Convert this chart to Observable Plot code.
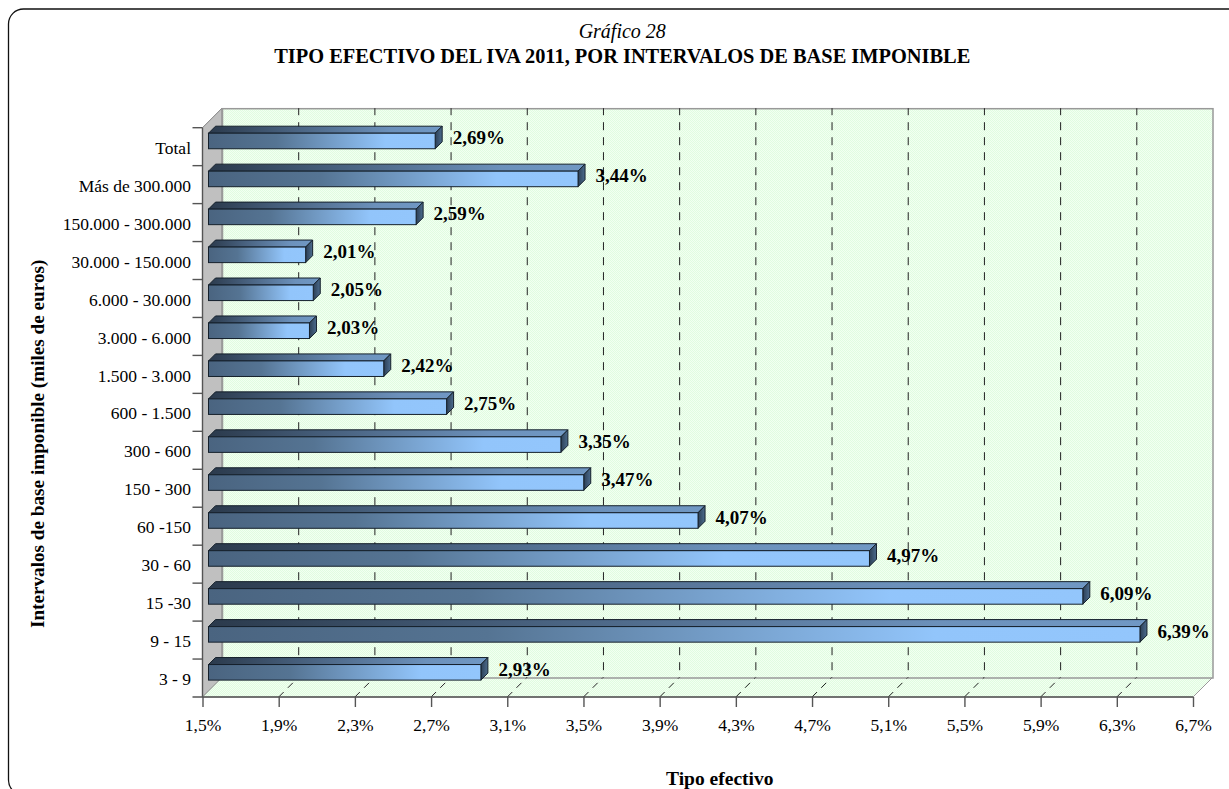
<!DOCTYPE html>
<html lang="es">
<head>
<meta charset="utf-8">
<title>Gráfico 28</title>
<script src="https://cdn.jsdelivr.net/npm/d3@7"></script>
<script src="https://cdn.jsdelivr.net/npm/@observablehq/plot@0.6"></script>
<style>
html,body{margin:0;padding:0;background:#fff;overflow:hidden}
svg{display:block}
</style>
</head>
<body>
<div id="chart"></div>
<script>
const categories = ["Total","Más de 300.000","150.000 - 300.000","30.000 - 150.000","6.000 - 30.000","3.000 - 6.000","1.500 - 3.000","600 - 1.500","300 - 600","150 - 300","60 -150","30 - 60","15 -30","9 - 15","3 - 9"];
const values = [2.69,3.44,2.59,2.01,2.05,2.03,2.42,2.75,3.35,3.47,4.07,4.97,6.09,6.39,2.93];
const xTicks = [1.5,1.9,2.3,2.7,3.1,3.5,3.9,4.3,4.7,5.1,5.5,5.9,6.3,6.7];
const gridTicks = xTicks.slice(1,-1);
const chartKicker = "Gráfico 28";
const chartTitle = "TIPO EFECTIVO DEL IVA 2011, POR INTERVALOS DE BASE IMPONIBLE";
const xTitle = "Tipo efectivo";
const yTitle = "Intervalos de base imponible (miles de euros)";

const rows = categories.map((c,i)=>({c, v:values[i]}));
const comma = (v,d)=>v.toFixed(d).replace(".",",")+"%";
const FONT = '"Liberation Serif","Times New Roman",serif';
const wall = 19.5, barShift = 6, barDepth = 7, barInset = 11.2, barLift = -5.7;

function defs(){
  const g = d3.create("svg:g");
  const d = g.append("defs");
  const grad = (id,stops)=>{
    const l = d.append("linearGradient").attr("id",id).attr("x1",0).attr("x2",1).attr("y1",0).attr("y2",0);
    stops.forEach(([o,c])=>l.append("stop").attr("offset",o).attr("stop-color",c));
  };
  grad("front",[[0,"#4a6480"],[0.3,"#557493"],[0.78,"#92c5fb"],[1,"#93c6fc"]]);
  grad("top",[[0,"#2b3a4c"],[0.3,"#445c78"],[0.78,"#6c91bb"],[1,"#7098c4"]]);
  grad("side",[[0,"#2c3f55"],[1,"#4c6c8e"]]);
  const p = d.append("pattern").attr("id","dither").attr("width",2).attr("height",2).attr("patternUnits","userSpaceOnUse");
  p.append("rect").attr("width",2).attr("height",2).attr("fill","#e0fce0");
  p.append("rect").attr("width",1).attr("height",1).attr("fill","#f2fff1");
  p.append("rect").attr("x",1).attr("y",1).attr("width",1).attr("height",1).attr("fill","#f2fff1");
  return g.node();
}

function poly(g,pts,attrs){
  const n = g.append("polygon").attr("points",pts.map(p=>p.join(",")).join(" "));
  Object.entries(attrs).forEach(([k,v])=>n.attr(k,v));
}

function chrome(index,scales,values_,dim){
  const g = d3.create("svg:g");
  g.append("rect").attr("x",8.5).attr("y",9).attr("width",1260).attr("height",786).attr("rx",15)
    .attr("fill","none").attr("stroke","#111").attr("stroke-width",1.3);
  const xa = dim.marginLeft, xb = dim.width-dim.marginRight, ya = dim.marginTop, yb = dim.height-dim.marginBottom;
  poly(g,[[xa,ya],[xa+wall,ya-wall],[xa+wall,yb-wall],[xa,yb]],{fill:"#c0c0c0",stroke:"#808080"});
  poly(g,[[xa,yb],[xa+wall,yb-wall],[xb+wall,yb-wall],[xb,yb]],{fill:"url(#dither)",stroke:"#999"});
  return g.node();
}

function floorGrid(index,scales,values_,dim){
  const g = d3.create("svg:g");
  const yb = dim.height-dim.marginBottom;
  gridTicks.forEach(t=>{
    const x = scales.x(t);
    g.append("line").attr("x1",x).attr("y1",yb).attr("x2",x+wall).attr("y2",yb-wall)
      .attr("stroke","#222").attr("stroke-dasharray","7 6");
  });
  return g.node();
}

function axisFrame(index,scales,values_,dim){
  const g = d3.create("svg:g").attr("stroke","#555").attr("stroke-width",1.4);
  const xa = dim.marginLeft, xb = dim.width-dim.marginRight, yb = dim.height-dim.marginBottom;
  g.append("line").attr("x1",xa).attr("x2",xa).attr("y1",dim.marginTop).attr("y2",yb);
  g.append("line").attr("x1",xa-10).attr("x2",xb).attr("y1",yb).attr("y2",yb);
  categories.forEach(c=>{
    const y = scales.y(c);
    g.append("line").attr("x1",xa-10).attr("x2",xa).attr("y1",y).attr("y2",y);
  });
  return g.node();
}

function barFaces(index,scales){
  const g = d3.create("svg:g").attr("stroke","#15202b").attr("stroke-width",1).attr("stroke-linejoin","round");
  const step = scales.y(categories[1])-scales.y(categories[0]);
  rows.forEach(r=>{
    const yt = scales.y(r.c)+barInset+barLift;
    const yb = scales.y(r.c)+step-barInset+barLift;
    const x0 = scales.x(1.5)+barShift, x1 = scales.x(r.v)+barShift, d = barDepth;
    poly(g,[[x0,yt],[x0+d,yt-d],[x1+d,yt-d],[x1,yt]],{fill:"url(#top)"});
    poly(g,[[x1,yt],[x1+d,yt-d],[x1+d,yb-d],[x1,yb]],{fill:"url(#side)"});
  });
  return g.node();
}

const plot = Plot.plot({
  width:1229, height:789,
  marginLeft:202.5, marginRight:36, marginTop:127.7, marginBottom:92,
  style:{fontFamily:FONT, background:"#fff", color:"#000", overflow:"visible"},
  x:{domain:[1.5,6.7], type:"linear"},
  y:{domain:categories, type:"band", padding:0, align:0.5, round:false},
  marks:[
    defs,
    chrome,
    Plot.frame({fill:"url(#dither)", stroke:"#999", strokeWidth:1.5, dx:wall, dy:-wall}),
    Plot.ruleX(gridTicks,{x:d=>d, dx:wall, dy:-wall, stroke:"#222", strokeWidth:1, strokeDasharray:"8 7", strokeDashoffset:1}),
    floorGrid,
    axisFrame,
    Plot.axisX(xTicks,{anchor:"bottom", tickSize:10, tickPadding:11, fontSize:17.5, stroke:"#555", strokeWidth:1.4, tickFormat:d=>comma(d,1), label:null}),
    Plot.axisY(categories,{anchor:"left", tickSize:0, tickPadding:12, fontSize:17.5, dy:1, label:null, tickFormat:d=>d}),
    barFaces,
    Plot.barX(rows,{x1:()=>1.5, x2:"v", y:"c", dx:barShift, dy:barLift, insetTop:barInset, insetBottom:barInset, fill:"url(#front)", stroke:"#15202b", strokeWidth:1}),
    Plot.text(rows,{x:"v", y:"c", text:d=>comma(d.v,2), dx:23, dy:-9, textAnchor:"start", fontSize:19, fontWeight:"bold", fill:"#000"}),
    Plot.text([chartKicker],{text:d=>d, frameAnchor:"top", dx:-76, dy:-104.5, fontSize:20, fontStyle:"italic", fill:"#000"}),
    Plot.text([chartTitle],{text:d=>d, frameAnchor:"top", dx:-76, dy:-79.5, fontSize:20.4, fontWeight:"bold", fill:"#000"}),
    Plot.text([xTitle],{text:d=>d, frameAnchor:"bottom", dx:21.5, dy:87, fontSize:19.5, fontWeight:"bold", fill:"#000"}),
    Plot.text([yTitle],{text:d=>d, frameAnchor:"left", textAnchor:"middle", rotate:-90, dx:-165, dy:31, fontSize:19.2, fontWeight:"bold", fill:"#000"})
  ]
});
document.getElementById("chart").append(plot);
</script>
</body>
</html>
